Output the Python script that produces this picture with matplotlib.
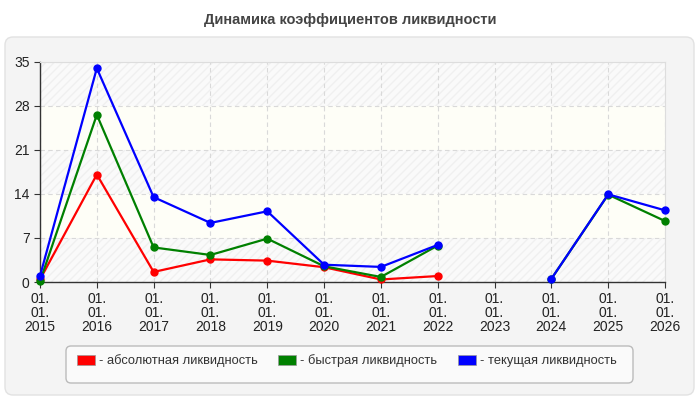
import numpy as np
import matplotlib
matplotlib.use("Agg")
import matplotlib.pyplot as plt
from matplotlib.patches import FancyBboxPatch, Patch
from matplotlib import font_manager

names = {f.name for f in font_manager.fontManager.ttflist}
fam = ['Liberation Sans Narrow'] if 'Liberation Sans Narrow' in names else []
plt.rcParams['font.family'] = fam + ['Liberation Sans', 'DejaVu Sans']

years = ['2015', '2016', '2017', '2018', '2019', '2020', '2021', '2022', '2023', '2024', '2025', '2026']
tick_labels = ['01.\n01.\n' + y for y in years]
nan = np.nan
absolute = [0.4, 17.1, 1.6, 3.6, 3.4, 2.35, 0.4, 0.95, nan, nan, nan, nan]
quick = [0.1, 26.6, 5.5, 4.3, 6.9, 2.5, 0.8, 5.8, nan, 0.5, 13.9, 9.7]
current = [0.95, 34.0, 13.5, 9.4, 11.25, 2.75, 2.4, 5.9, nan, 0.5, 13.95, 11.4]
series_names = ['- абсолютная ликвидность', '- быстрая ликвидность', '- текущая ликвидность']
colors = ['#ff0000', '#008000', '#0000ff']

fig = plt.figure(figsize=(7, 4), dpi=100)
fig.patch.set_facecolor('white')

bg = fig.add_axes([0, 0, 1, 1], zorder=-10)
bg.set_xlim(0, 700)
bg.set_ylim(400, 0)
bg.axis('off')
bg.add_patch(FancyBboxPatch((5, 37), 689, 358, boxstyle='round,pad=0,rounding_size=8',
                            facecolor='#f4f4f4', edgecolor='#e2e2e2', linewidth=1))
bg.add_patch(FancyBboxPatch((66, 346), 567, 37, boxstyle='round,pad=0,rounding_size=5',
                            facecolor='#fafafa', edgecolor='#bbbbbb', linewidth=1))

fig.text(0.5, 1 - 20 / 400, 'Динамика коэффициентов ликвидности', ha='center', va='center',
         fontsize=10.5, fontweight='bold', color='#444444', family=['Liberation Sans', 'DejaVu Sans'])

ax = fig.add_axes([40 / 700, 1 - 282 / 400, 625 / 700, 220 / 400])
ax.set_facecolor('#fbfbfb')
x = np.arange(len(years))

for lo, hi, hatched in [(0, 7, True), (7, 14, False), (14, 21, True), (21, 28, False), (28, 35, True)]:
    if hatched:
        ax.axhspan(lo, hi, facecolor='#fafafa', edgecolor='#f0f0f0', hatch='////', linewidth=0, zorder=0)
    else:
        ax.axhspan(lo, hi, facecolor='#fefef7', linewidth=0, zorder=0)

for vals, c in zip([absolute, quick, current], colors):
    ax.plot(x, vals, color=c, linewidth=1.6, marker='o', markersize=5, zorder=3, clip_on=False)

ax.set_xlim(0, len(years) - 1)
ax.set_ylim(0, 35)
ax.set_yticks([0, 7, 14, 21, 28, 35])
ax.set_xticks(x)
ax.set_xticklabels(tick_labels, linespacing=1.0)
ax.tick_params(axis='both', labelsize=10, colors='#333333', length=4, width=0.8, labelcolor='#222222')
ax.grid(True, color='#d9d9d9', linestyle=(0, (4, 3)), linewidth=0.8, zorder=1)
ax.set_axisbelow(True)
for s in ['top', 'right']:
    ax.spines[s].set_color('#dddddd')
for s in ['left', 'bottom']:
    ax.spines[s].set_color('#333333')
    ax.spines[s].set_linewidth(1)

handles = [Patch(facecolor=c, edgecolor='#999999', linewidth=0.5) for c in colors]
leg = fig.legend(handles, series_names, ncol=3, loc='center left',
                 bbox_to_anchor=(77 / 700, 1 - 361 / 400), frameon=False,
                 fontsize=9.3, handlelength=1.4, handleheight=0.8,
                 handletextpad=0.3, borderaxespad=0, borderpad=0, columnspacing=1.6,
                 labelcolor='#333333')

fig.savefig('out.png', dpi=100, facecolor='white')
